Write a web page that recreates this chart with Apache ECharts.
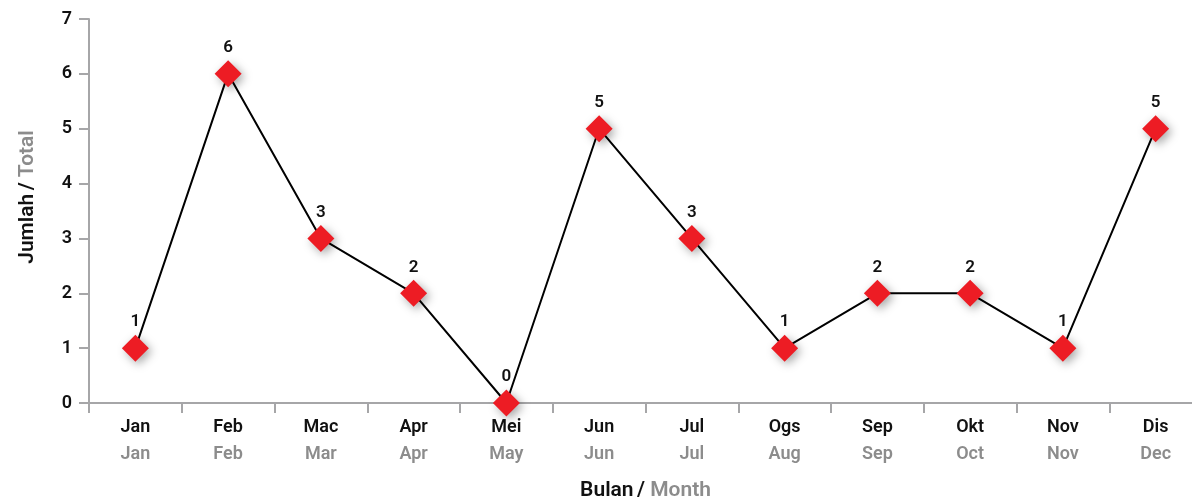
<!DOCTYPE html>
<html>
<head>
<meta charset="utf-8">
<script src="https://cdn.jsdelivr.net/npm/echarts@6/dist/echarts.min.js"></script>
<style>
  html, body { margin: 0; padding: 0; background: #fff; }
  #chart { width: 1192px; height: 501px; }
</style>
</head>
<body>
<div id="chart"></div>
<script>
// bulan (BM) / month (EN)
var bulanMs = ['Jan', 'Feb', 'Mac', 'Apr', 'Mei', 'Jun', 'Jul', 'Ogs', 'Sep', 'Okt', 'Nov', 'Dis'];
var bulanEn = ['Jan', 'Feb', 'Mar', 'Apr', 'May', 'Jun', 'Jul', 'Aug', 'Sep', 'Oct', 'Nov', 'Dec'];
var jumlah = [1, 6, 3, 2, 0, 5, 3, 1, 2, 2, 1, 5];
var yTicks = [0, 1, 2, 3, 4, 5, 6, 7];

var font = 'Roboto';
var grey = '#8c8c8c';
var axisGrey = '#a6a6a8';
var fw = 600;

var myChart = echarts.init(document.getElementById('chart'));
var option = {
    animation: false,
    grid: {
        left: 89,
        width: 1113,
        top: 19,
        height: 384,
        containLabel: false,
        outerBoundsMode: 'none'
    },
    xAxis: {
        type: 'category',
        data: bulanMs,
        boundaryGap: true,
        name: '{a|Bulan} {b|/ }{c|Month}',
        nameLocation: 'middle',
        nameGap: 77,
        nameTextStyle: {
            rich: {
                a: { fontFamily: font, fontSize: 21, fontWeight: fw, color: '#111' },
                b: { fontFamily: font, fontSize: 21, fontWeight: fw, color: '#111' },
                c: { fontFamily: font, fontSize: 21, fontWeight: fw, color: grey }
            }
        },
        axisLine: { lineStyle: { color: axisGrey, width: 2 } },
        axisTick: { show: true, length: 10, lineStyle: { color: axisGrey, width: 2 } },
        axisLabel: {
            interval: 0,
            margin: 11,
            formatter: function (val, idx) {
                return '{a|' + val + '}\n{b|' + bulanEn[idx] + '}';
            },
            rich: {
                a: { fontFamily: font, fontSize: 18, fontWeight: fw, color: '#111', lineHeight: 27 },
                b: { fontFamily: font, fontSize: 18, fontWeight: fw, color: grey, lineHeight: 27 }
            }
        },
        splitLine: { show: false }
    },
    yAxis: {
        type: 'value',
        min: yTicks[0],
        max: yTicks[yTicks.length - 1],
        interval: 1,
        name: '{a|Jumlah} {b|/ }{c|Total}',
        nameLocation: 'middle',
        nameGap: 51,
        nameRotate: 90,
        nameTextStyle: {
            padding: [0, 0, 0, 28],
            rich: {
                a: { fontFamily: font, fontSize: 21, fontWeight: fw, color: '#111' },
                b: { fontFamily: font, fontSize: 21, fontWeight: fw, color: '#111' },
                c: { fontFamily: font, fontSize: 21, fontWeight: fw, color: grey }
            }
        },
        axisLine: { show: true, lineStyle: { color: axisGrey, width: 2 } },
        axisTick: { show: true, length: 10, lineStyle: { color: axisGrey, width: 2 } },
        axisLabel: {
            margin: 17,
            fontFamily: font,
            fontSize: 18,
            fontWeight: fw,
            color: '#111'
        },
        splitLine: { show: false }
    },
    series: [{
        type: 'line',
        data: jumlah,
        symbol: 'diamond',
        symbolSize: 27,
        lineStyle: { color: '#000', width: 2 },
        itemStyle: {
            color: '#ed1c24',
            shadowColor: 'rgba(0,0,0,0.35)',
            shadowBlur: 10,
            shadowOffsetX: 3,
            shadowOffsetY: 3
        },
        label: {
            show: true,
            position: 'top',
            distance: 4,
            fontFamily: font,
            fontSize: 17,
            fontWeight: fw,
            color: '#111'
        }
    }]
};
myChart.setOption(option);
</script>
</body>
</html>
